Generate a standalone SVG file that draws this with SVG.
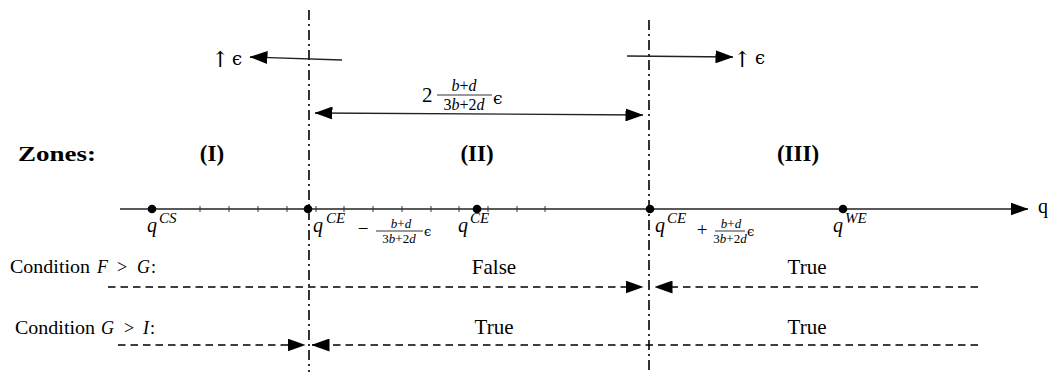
<svg xmlns="http://www.w3.org/2000/svg" width="1055" height="372" viewBox="0 0 1055 372">
<defs>
<marker id="ah" viewBox="0 0 18 13" refX="17.5" refY="6.5" markerWidth="18" markerHeight="13" markerUnits="userSpaceOnUse" orient="auto-start-reverse"><path d="M0,0 L18,6.5 L0,13 Z" fill="#000"/></marker>
</defs>
<style>
text{font-family:"Liberation Serif","DejaVu Serif",serif;fill:#000}
.it{font-style:italic}
.bf{font-weight:bold}
.ep{font-family:"DejaVu Serif","DejaVu Sans",serif;font-style:normal}
.ar{font-family:"DejaVu Serif","DejaVu Sans",serif;fill:#000;font-variant-emoji:text}
.dd{stroke:#000;stroke-width:1.6;stroke-dasharray:10 4 2 4;fill:none}
.ds{stroke:#000;stroke-width:1.7;stroke-dasharray:7.5 5;fill:none}
.ln{stroke:#222;stroke-width:1.3;fill:none}
.tk{stroke:#333;stroke-width:1}
.bar{stroke:#000;stroke-width:0.8}
.c{text-anchor:middle}
</style>
<rect width="1055" height="372" fill="#fff"/>

<g id="guides">
<line class="dd" x1="309" y1="10" x2="309" y2="372"/>
<line class="dd" x1="649" y1="20" x2="649" y2="372"/>
</g>

<g id="axis">
<line class="ln" x1="120" y1="209" x2="1028" y2="209" marker-end="url(#ah)"/>
<g class="tk">
<line x1="200" y1="206" x2="200" y2="212"/><line x1="229" y1="206" x2="229" y2="212"/>
<line x1="258" y1="206" x2="258" y2="212"/><line x1="287" y1="206" x2="287" y2="212"/>
<line x1="316" y1="206" x2="316" y2="212"/><line x1="344" y1="206" x2="344" y2="212"/>
<line x1="373" y1="206" x2="373" y2="212"/><line x1="402" y1="206" x2="402" y2="212"/>
<line x1="431" y1="206" x2="431" y2="212"/><line x1="459" y1="206" x2="459" y2="212"/>
<line x1="488" y1="206" x2="488" y2="212"/><line x1="517" y1="206" x2="517" y2="212"/>
<line x1="545" y1="206" x2="545" y2="212"/>
</g>
<text x="1038" y="213" font-size="20">q</text>
</g>

<g id="qCS">
<circle cx="152" cy="209" r="4.3" fill="#000"/>
<text class="it" x="147" y="232" font-size="20">q</text>
<text class="it" x="159" y="223" font-size="15">CS</text>
</g>

<g id="qCE-minus">
<circle cx="308" cy="209" r="4.3" fill="#000"/>
<text class="it" x="313" y="232" font-size="20">q</text>
<text class="it" x="326" y="223" font-size="15">CE</text>
<text class="c" x="363" y="235" font-size="19">−</text>
<text class="c" x="401" y="228" font-size="13"><tspan class="it">b</tspan>+<tspan class="it">d</tspan></text>
<line class="bar" x1="376" y1="231" x2="423" y2="231"/>
<text class="c" x="399" y="243" font-size="13">3<tspan class="it">b</tspan>+2<tspan class="it">d</tspan></text>
<text class="ep" x="424" y="236" font-size="13">ϵ</text>
</g>

<g id="qCE">
<circle cx="477" cy="209" r="4.3" fill="#000"/>
<text class="it" x="458" y="232" font-size="20">q</text>
<text class="it" x="470" y="223" font-size="15">CE</text>
</g>

<g id="qCE-plus">
<circle cx="650" cy="209" r="4.3" fill="#000"/>
<text class="it" x="655" y="232" font-size="20">q</text>
<text class="it" x="667" y="223" font-size="15">CE</text>
<text class="c" x="702" y="236" font-size="19">+</text>
<text class="c" x="731" y="228" font-size="13"><tspan class="it">b</tspan>+<tspan class="it">d</tspan></text>
<line class="bar" x1="715" y1="231" x2="745" y2="231"/>
<text class="c" x="730" y="243" font-size="13">3<tspan class="it">b</tspan>+2<tspan class="it">d</tspan></text>
<text class="ep" x="747" y="236" font-size="13">ϵ</text>
</g>

<g id="qWE">
<circle cx="843" cy="209" r="4.3" fill="#000"/>
<text class="it" x="833" y="232" font-size="20">q</text>
<text class="it" x="845" y="223" font-size="15">WE</text>
</g>

<g id="zones">
<text class="bf" x="18" y="161" font-size="21" textLength="78" lengthAdjust="spacingAndGlyphs">Zones:</text>
<text class="bf c" x="212" y="161" font-size="23">(I)</text>
<text class="bf c" x="477" y="161" font-size="23">(II)</text>
<text class="bf c" x="798" y="161" font-size="23">(III)</text>
</g>

<g id="eps-left">
<text class="ar" x="211" y="67" font-size="22">&#x2191;&#xFE0E;</text>
<text class="ep" x="232" y="65" font-size="18">ϵ</text>
</g>
<g id="eps-right">
<text class="ar" x="733" y="67" font-size="22">&#x2191;&#xFE0E;</text>
<text class="ep" x="755" y="64" font-size="18">ϵ</text>
</g>

<g id="width-label">
<text x="422" y="102" font-size="21">2</text>
<text class="c" x="464" y="91" font-size="16"><tspan class="it">b</tspan>+<tspan class="it">d</tspan></text>
<line class="bar" x1="437" y1="95" x2="492" y2="95"/>
<text class="c" x="464" y="110" font-size="16">3<tspan class="it">b</tspan>+2<tspan class="it">d</tspan></text>
<text class="ep" x="493" y="104" font-size="17">ϵ</text>
</g>

<g id="cond-FG">
<text x="10" y="273" font-size="18" textLength="80" lengthAdjust="spacingAndGlyphs">Condition</text>
<text class="it" x="97" y="273" font-size="18">F</text>
<text x="117" y="273" font-size="18">&gt;</text>
<text class="it" x="137" y="273" font-size="18">G</text>
<text x="151" y="273" font-size="18">:</text>
<text class="c" x="494" y="274" font-size="21">False</text>
<text class="c" x="807" y="274" font-size="21">True</text>
</g>

<g id="cond-GI">
<text x="15" y="334" font-size="18" textLength="80" lengthAdjust="spacingAndGlyphs">Condition</text>
<text class="it" x="101" y="334" font-size="18">G</text>
<text x="124" y="334" font-size="18">&gt;</text>
<text class="it" x="143" y="334" font-size="18">I</text>
<text x="150" y="334" font-size="18">:</text>
<text class="c" x="494" y="334" font-size="21">True</text>
<text class="c" x="807" y="334" font-size="21">True</text>
</g>

<g id="connectors">
<line class="ln" x1="342" y1="60" x2="250" y2="57" marker-end="url(#ah)"/>
<line class="ln" x1="627" y1="56" x2="733" y2="57" marker-end="url(#ah)"/>
<line class="ln" x1="315" y1="113" x2="643" y2="115" marker-start="url(#ah)" marker-end="url(#ah)"/>
<line class="ds" x1="108" y1="287" x2="643" y2="287" marker-end="url(#ah)"/>
<line class="ds" x1="978" y1="287" x2="655" y2="287" marker-end="url(#ah)"/>
<line class="ds" x1="118" y1="345" x2="305" y2="345" marker-end="url(#ah)"/>
<line class="ds" x1="978" y1="345" x2="312" y2="345" marker-end="url(#ah)"/>
</g>
</svg>
